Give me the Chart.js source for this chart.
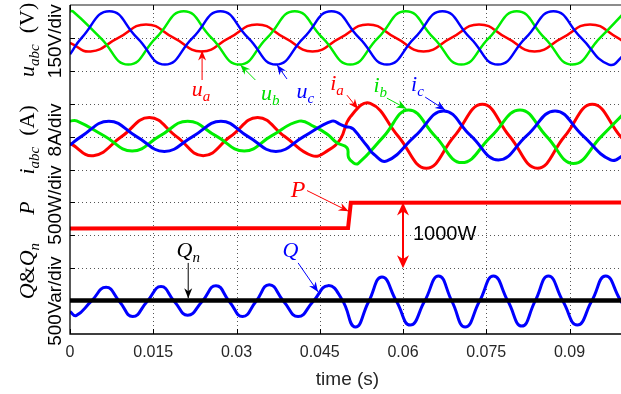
<!DOCTYPE html>
<html>
<head>
<meta charset="utf-8">
<script src="https://cdn.jsdelivr.net/npm/chart.js@4.4.0/dist/chart.umd.min.js"></script>
<style>
  html, body { margin: 0; padding: 0; background: #fff; overflow: hidden; }
  #wrap { position: relative; width: 625px; height: 394px; }
</style>
</head>
<body>
<div id="wrap"><canvas id="scope"></canvas></div>
<script>
// x axis: time (s); y axis: 10 scope divisions shared by the four traces
const xTicks = [0, 0.015, 0.03, 0.045, 0.06, 0.075, 0.09];
const xTickLabels = ['0', '0.015', '0.03', '0.045', '0.06', '0.075', '0.09'];
const yGrid = [1, 2, 3, 4, 5, 6, 7, 8, 9];

// grid voltages (div)
const uaT = [0, 0.0037, 0.0087, 0.0137, 0.0187, 0.0237, 0.0287, 0.0337, 0.0387, 0.0437, 0.0487, 0.0537, 0.0587, 0.0637, 0.0687, 0.0737, 0.0787, 0.0837, 0.0887, 0.0937, 0.0987, 0.1];
const uaV = [8.85, 8.59, 9.0, 9.41, 9.0, 8.59, 9.0, 9.41, 9.0, 8.59, 9.0, 9.41, 9.0, 8.59, 9.0, 9.41, 9.0, 8.59, 9.0, 9.41, 9.0, 8.84];
const ubT = [0, 0.0005, 0.0055, 0.0105, 0.0155, 0.0205, 0.0255, 0.0305, 0.0355, 0.0405, 0.0455, 0.0505, 0.0555, 0.0605, 0.0655, 0.0705, 0.0755, 0.0805, 0.0855, 0.0905, 0.0955, 0.1];
const ubV = [9.80, 9.81, 9.0, 8.19, 9.0, 9.81, 9.0, 8.19, 9.0, 9.81, 9.0, 8.19, 9.0, 9.81, 9.0, 8.19, 9.0, 9.81, 9.0, 8.19, 9.0, 9.79];
const ucT = [0, 0.0021, 0.0071, 0.0121, 0.0171, 0.0221, 0.0271, 0.0321, 0.0371, 0.0421, 0.0471, 0.0521, 0.0571, 0.0621, 0.0671, 0.0721, 0.0771, 0.0821, 0.0871, 0.0921, 0.0971, 0.1];
const ucV = [8.50, 9.0, 9.81, 9.0, 8.19, 9.0, 9.81, 9.0, 8.19, 9.0, 9.81, 9.0, 8.19, 9.0, 9.81, 9.0, 8.19, 9.0, 9.81, 9.0, 8.19, 8.50];

// currents (div)
const iaT = [0, 0.0042, 0.0093, 0.0143, 0.0192, 0.0240, 0.0289, 0.0338, 0.0387, 0.0436, 0.0465, 0.0487, 0.0505, 0.0541, 0.0591, 0.0642, 0.0692, 0.0743, 0.0792, 0.0842, 0.0891, 0.0941, 0.0992, 0.1];
const iaV = [5.8, 5.42, 6.0, 6.58, 6.0, 5.42, 6.0, 6.58, 6.0, 5.42, 5.58, 5.92, 6.6, 7.01, 6.02, 5.04, 6.0, 6.98, 6.01, 5.04, 6.0, 6.98, 6.0, 5.84];
const ibT = [0, 0.0012, 0.0062, 0.0112, 0.0162, 0.0212, 0.0263, 0.0314, 0.0363, 0.0413, 0.0440, 0.0463, 0.0481, 0.0499, 0.0502, 0.0510, 0.0519, 0.0565, 0.0610, 0.0658, 0.0706, 0.0759, 0.0811, 0.0859, 0.0907, 0.0957, 0.1];
const ibV = [6.47, 6.48, 6.02, 5.56, 6.02, 6.47, 6.02, 5.56, 6.02, 6.47, 6.30, 6.08, 5.81, 5.66, 5.36, 5.21, 5.18, 6.0, 6.81, 6.01, 5.21, 6.01, 6.81, 6.0, 5.18, 6.0, 6.74];
const icT = [0, 0.0020, 0.0070, 0.0120, 0.0170, 0.0221, 0.0272, 0.0321, 0.0371, 0.0421, 0.0472, 0.0487, 0.0497, 0.0505, 0.0511, 0.0535, 0.0547, 0.0571, 0.0622, 0.0673, 0.0722, 0.0772, 0.0823, 0.0874, 0.0924, 0.0974, 0.1];
const icV = [5.74, 6.0, 6.47, 6.0, 5.55, 6.0, 6.47, 6.0, 5.55, 6.0, 6.47, 6.37, 6.30, 6.28, 6.22, 5.72, 5.47, 5.26, 6.02, 6.78, 6.03, 5.29, 6.03, 6.78, 6.03, 5.29, 5.45];

// active power P, reactive power Q and reference Qn (div)
const pT = [0, 0.0501, 0.0506, 0.1];
const pV = [3.21, 3.22, 3.99, 4.0];
const qnT = [0, 0.1];
const qnV = [1.02, 1.02];
const qT = [0, 0.0011, 0.0038, 0.0065, 0.0089, 0.0113, 0.0139, 0.0164, 0.0188, 0.0212, 0.0238, 0.0263, 0.0287, 0.0311, 0.0335, 0.0359, 0.0385, 0.0411, 0.0438, 0.0465, 0.0490, 0.0514, 0.0538, 0.0562, 0.0588, 0.0613, 0.0639, 0.0664, 0.0688, 0.0712, 0.0738, 0.0763, 0.0789, 0.0814, 0.0838, 0.0862, 0.0888, 0.0914, 0.0940, 0.0965, 0.0991, 0.1];
const qV = [0.68, 0.56, 0.99, 1.42, 0.99, 0.53, 0.99, 1.44, 0.99, 0.57, 0.99, 1.47, 0.99, 0.53, 0.99, 1.50, 0.99, 0.53, 0.99, 1.47, 1.05, 0.21, 0.98, 1.73, 1.0, 0.27, 1.0, 1.76, 1.0, 0.21, 1.0, 1.76, 1.0, 0.24, 1.0, 1.76, 1.0, 0.27, 1.0, 1.76, 1.05, 0.8];

// in-plot labels and arrows, placed in data units (t, div)
const labels = [
  { parts: [['u', 'it'], ['a', 'sub']], t: 0.0236, v: 7.42, color: '#ff0000' },
  { parts: [['u', 'it'], ['b', 'sub']], t: 0.0361, v: 7.29, color: '#00e000' },
  { parts: [['u', 'it'], ['c', 'sub']], t: 0.0424, v: 7.36, color: '#0000ff' },
  { parts: [['i', 'it'], ['a', 'sub']], t: 0.0481, v: 7.60, color: '#ff0000' },
  { parts: [['i', 'it'], ['b', 'sub']], t: 0.0559, v: 7.54, color: '#00e000' },
  { parts: [['i', 'it'], ['c', 'sub']], t: 0.0626, v: 7.57, color: '#0000ff' },
  { parts: [['P', 'it']], t: 0.0411, v: 4.38, color: '#ff0000', size: 24 },
  { parts: [['Q', 'it'], ['n', 'sub']], t: 0.0213, v: 2.52, color: '#000000' },
  { parts: [['Q', 'it']], t: 0.0397, v: 2.52, color: '#0000ff' }
];
const arrows = [
  { t1: 0.0238, v1: 7.72, t2: 0.0238, v2: 8.62, color: '#ff0000' },
  { t1: 0.0334, v1: 7.72, t2: 0.0307, v2: 8.18, color: '#00e000' },
  { t1: 0.0391, v1: 7.75, t2: 0.0373, v2: 8.18, color: '#0000ff' },
  { t1: 0.0499, v1: 7.26, t2: 0.0519, v2: 6.84, color: '#ff0000' },
  { t1: 0.0571, v1: 7.17, t2: 0.0606, v2: 6.85, color: '#00e000' },
  { t1: 0.0640, v1: 7.20, t2: 0.0676, v2: 6.81, color: '#0000ff' },
  { t1: 0.0427, v1: 4.36, t2: 0.0502, v2: 3.73, color: '#ff0000' },
  { t1: 0.0213, v1: 2.16, t2: 0.0213, v2: 1.09, color: '#000000' },
  { t1: 0.0411, v1: 2.16, t2: 0.0447, v2: 1.28, color: '#0000ff' }
];
const stepArrow = { t: 0.06, v1: 2.0, v2: 4.0, text: '1000W', textT: 0.0618, textV: 3.07 };

// rotated labels left of the axis: math name and scale per division
const sideLabels = [
  { parts: [['u', 'it'], ['abc', 'sub'], ['  (V)', 'rm']], v: 8.94, div: '150V/div', divV: 8.9 },
  { parts: [['i', 'it'], ['abc', 'sub'], ['  (A)', 'rm']], v: 5.9, div: '8A/div', divV: 6.2 },
  { parts: [['P', 'it']], v: 3.83, div: '500W/div', divV: 3.92 },
  { parts: [['Q', 'it'], ['&', 'rm'], ['Q', 'it'], ['n', 'sub']], v: 1.91, div: '500Var/div', divV: 1.0 }
];

const pts = (ts, vs) => ts.map((t, i) => ({ x: t, y: vs[i] }));

function fontFor(kind, size) {
  if (kind === 'it') return 'italic ' + size + 'px "Liberation Serif"';
  if (kind === 'sub') return 'italic ' + Math.round(size * 0.7) + 'px "Liberation Serif"';
  return size + 'px "Liberation Serif"';
}

function richWidth(ctx, parts, size) {
  let w = 0;
  parts.forEach(p => { ctx.font = fontFor(p[1], size); w += ctx.measureText(p[0]).width; });
  return w;
}

// draws a small math label, centred on cx, with baseline at by
function drawRich(ctx, parts, cx, by, size, color) {
  let x = cx - richWidth(ctx, parts, size) / 2;
  ctx.fillStyle = color;
  ctx.textBaseline = 'alphabetic';
  ctx.textAlign = 'left';
  parts.forEach(p => {
    ctx.font = fontFor(p[1], size);
    const dy = p[1] === 'sub' ? size * 0.22 : 0;
    ctx.fillText(p[0], x, by + dy);
    x += ctx.measureText(p[0]).width;
  });
}

function head(ctx, x1, y1, x2, y2, len, wid) {
  const a = Math.atan2(y2 - y1, x2 - x1);
  const c = Math.cos(a), s = Math.sin(a);
  const bx = x2 - c * len, by = y2 - s * len;
  ctx.beginPath();
  ctx.moveTo(x2, y2);
  ctx.lineTo(bx + s * wid / 2, by - c * wid / 2);
  ctx.lineTo(x2 - c * len * 0.7, y2 - s * len * 0.7);
  ctx.lineTo(bx - s * wid / 2, by + c * wid / 2);
  ctx.closePath();
  ctx.fill();
}

const scopeDecor = {
  id: 'scopeDecor',
  beforeDatasetsDraw(chart) {
    const { ctx, chartArea: a, scales: { x, y } } = chart;
    ctx.save();
    ctx.strokeStyle = '#555';
    ctx.lineWidth = 1;
    ctx.setLineDash([1, 3]);
    ctx.beginPath();
    xTicks.forEach(v => {
      if (v === 0) return;
      const px = Math.round(x.getPixelForValue(v)) + 0.5;
      ctx.moveTo(px, a.top); ctx.lineTo(px, a.bottom);
    });
    yGrid.forEach(v => {
      const py = Math.round(y.getPixelForValue(v)) + 0.5;
      ctx.moveTo(a.left, py); ctx.lineTo(a.right, py);
    });
    ctx.stroke();
    ctx.restore();
  },
  afterDatasetsDraw(chart) {
    const { ctx, chartArea: a, scales: { x, y } } = chart;
    ctx.save();

    // box: black left/bottom axis, grey top edge, inward ticks
    ctx.lineWidth = 1.3;
    ctx.strokeStyle = '#666';
    ctx.beginPath(); ctx.moveTo(a.left, a.top); ctx.lineTo(a.right, a.top); ctx.stroke();
    ctx.strokeStyle = '#000';
    ctx.beginPath();
    ctx.moveTo(a.left, a.top); ctx.lineTo(a.left, a.bottom); ctx.lineTo(a.right, a.bottom);
    ctx.stroke();
    ctx.lineWidth = 1;
    ctx.beginPath();
    xTicks.forEach(v => {
      const px = Math.round(x.getPixelForValue(v)) + 0.5;
      ctx.moveTo(px, a.bottom); ctx.lineTo(px, a.bottom - 5);
      ctx.moveTo(px, a.top); ctx.lineTo(px, a.top + 5);
    });
    yGrid.forEach(v => {
      const py = Math.round(y.getPixelForValue(v)) + 0.5;
      ctx.moveTo(a.left, py); ctx.lineTo(a.left + 5, py);
    });
    ctx.stroke();

    // thin annotation arrows
    arrows.forEach(ar => {
      const x1 = x.getPixelForValue(ar.t1), y1 = y.getPixelForValue(ar.v1);
      const x2 = x.getPixelForValue(ar.t2), y2 = y.getPixelForValue(ar.v2);
      ctx.strokeStyle = ar.color; ctx.fillStyle = ar.color; ctx.lineWidth = 1;
      ctx.beginPath(); ctx.moveTo(x1, y1); ctx.lineTo(x2, y2); ctx.stroke();
      head(ctx, x1, y1, x2, y2, 10, 8);
    });

    // 1000W double arrow
    const sx = x.getPixelForValue(stepArrow.t);
    const sy1 = y.getPixelForValue(stepArrow.v1), sy2 = y.getPixelForValue(stepArrow.v2);
    ctx.strokeStyle = '#ff0000'; ctx.fillStyle = '#ff0000'; ctx.lineWidth = 2;
    ctx.beginPath(); ctx.moveTo(sx, sy1 - 8); ctx.lineTo(sx, sy2 + 8); ctx.stroke();
    head(ctx, sx, sy2 + 20, sx, sy2, 13, 12);
    head(ctx, sx, sy1 - 20, sx, sy1, 13, 12);
    ctx.fillStyle = '#000';
    ctx.font = '20px "Liberation Sans"';
    ctx.textAlign = 'left'; ctx.textBaseline = 'middle';
    ctx.fillText(stepArrow.text, x.getPixelForValue(stepArrow.textT), y.getPixelForValue(stepArrow.textV) + 1);

    // math labels
    labels.forEach(l => {
      const size = l.size || 22;
      drawRich(ctx, l.parts, x.getPixelForValue(l.t), y.getPixelForValue(l.v) + size * 0.28, size, l.color);
    });

    // rotated labels on the left
    sideLabels.forEach(s => {
      ctx.save();
      ctx.translate(a.left - 36, y.getPixelForValue(s.v));
      ctx.rotate(-Math.PI / 2);
      drawRich(ctx, s.parts, 0, 0, 22, '#000');
      ctx.restore();
      ctx.save();
      ctx.translate(a.left - 14, y.getPixelForValue(s.divV));
      ctx.rotate(-Math.PI / 2);
      ctx.font = '19px "Liberation Sans"';
      ctx.fillStyle = '#000';
      ctx.textAlign = 'center'; ctx.textBaseline = 'middle';
      ctx.fillText(s.div, 0, 0);
      ctx.restore();
    });
    ctx.restore();
  }
};

const line = (ts, vs, color, width, order, tension) => ({
  data: pts(ts, vs), borderColor: color, borderWidth: width,
  tension: tension, pointRadius: 0, order: order, fill: false
});

const chart = new Chart(document.getElementById('scope'), {
  type: 'line',
  data: {
    datasets: [
      line(uaT, uaV, '#ff0000', 2.5, 9, 0.5),
      line(ubT, ubV, '#00ee00', 2.5, 8, 0.5),
      line(ucT, ucV, '#0000ff', 2.5, 7, 0.5),
      line(iaT, iaV, '#ff0000', 3, 6, 0.45),
      line(ibT, ibV, '#00ee00', 3, 5, 0.45),
      line(icT, icV, '#0000ff', 3, 4, 0.45),
      line(pT, pV, '#ff0000', 4, 3, 0),
      line(qT, qV, '#0000ff', 3, 2, 0.5),
      line(qnT, qnV, '#000000', 4.5, 1, 0)
    ]
  },
  options: {
    responsive: true,
    maintainAspectRatio: false,
    animation: false,
    layout: { padding: { top: 5, left: 0, right: 0, bottom: 0 } },
    plugins: { legend: { display: false }, tooltip: { enabled: false } },
    scales: {
      x: {
        type: 'linear', min: 0, max: 0.1,
        afterBuildTicks: s => { s.ticks = xTicks.map(v => ({ value: v })); },
        ticks: {
          callback: (v, i) => xTickLabels[i],
          font: { family: 'Liberation Sans', size: 16 },
          color: '#262626', padding: 9, maxRotation: 0, autoSkip: false
        },
        grid: { display: false, drawTicks: false },
        border: { display: false },
        title: {
          display: true, text: 'time (s)', color: '#262626',
          font: { family: 'Liberation Sans', size: 19 }, padding: { top: 0, bottom: 3 }
        },
        afterFit: s => { s.height = 60; }
      },
      y: {
        type: 'linear', min: 0, max: 10,
        ticks: { display: false },
        grid: { display: false, drawTicks: false },
        border: { display: false },
        afterFit: s => { s.width = 70; }
      }
    }
  },
  plugins: [scopeDecor]
});
</script>
</body>
</html>
